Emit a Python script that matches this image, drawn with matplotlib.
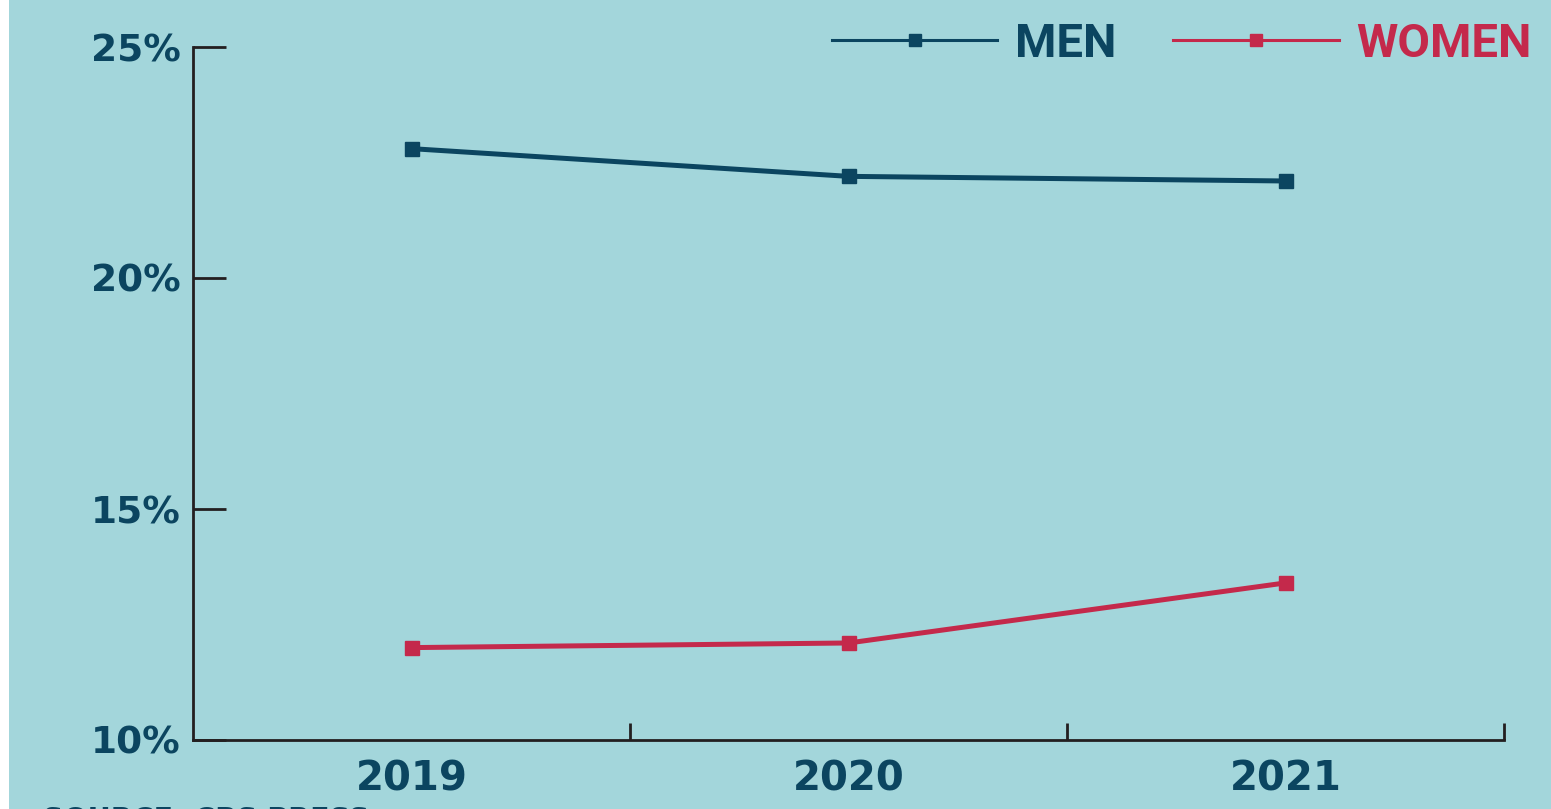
import matplotlib
matplotlib.use("Agg")
import matplotlib.pyplot as plt
from matplotlib.lines import Line2D
from matplotlib.patches import Rectangle
from matplotlib.ticker import FixedLocator, FuncFormatter

years = ["2019", "2020", "2021"]
men = [22.8, 22.2, 22.1]
women = [12.0, 12.1, 13.4]
y_ticks = [10, 15, 20, 25]
series_names = ["MEN", "WOMEN"]
source_note = "SOURCE: CBS PRESS"

BG = "#A3D6DB"
BLUE = "#0B4560"
RED = "#C4294B"
AXC = "#231F20"

W, H = 1551, 809
fig = plt.figure(figsize=(W / 100, H / 100), dpi=100, facecolor="white")
fig.patches.append(Rectangle((9 / W, 0), 1, 1, transform=fig.transFigure,
                             facecolor=BG, edgecolor="none", zorder=-10))

ax = fig.add_axes([193 / W, 1 - 740 / H, (1504 - 193) / W, (740 - 47) / H])
ax.set_facecolor(BG)

x = list(range(len(years)))
ax.plot(x, men, color=BLUE, lw=3.6, marker="s", ms=10, clip_on=False, zorder=3)
ax.plot(x, women, color=RED, lw=3.6, marker="s", ms=10, clip_on=False, zorder=3)

ax.set_xlim(-0.5, len(years) - 0.5)
ax.set_ylim(10, 25)

for s in ["top", "right"]:
    ax.spines[s].set_visible(False)
for s in ["left", "bottom"]:
    ax.spines[s].set_color(AXC)
    ax.spines[s].set_linewidth(2)

ax.set_yticks(y_ticks)
ax.yaxis.set_major_formatter(FuncFormatter(lambda v, p: f"{v:.0f}%"))
ax.tick_params(axis="y", direction="in", length=24, width=2, color=AXC, pad=9,
               labelsize=27, labelcolor=BLUE)

ax.set_xticks(x)
ax.set_xticklabels(years)
ax.tick_params(axis="x", which="major", length=0, pad=14, labelsize=29, labelcolor=BLUE)
ax.xaxis.set_minor_locator(FixedLocator([i + 0.5 for i in x]))
ax.tick_params(axis="x", which="minor", direction="in", length=12, width=2, color=AXC)

for lab in ax.get_xticklabels() + ax.get_yticklabels():
    lab.set_fontfamily("DejaVu Sans")
    lab.set_fontweight("bold")

handles = [Line2D([], [], color=BLUE, lw=2.2, marker="s", ms=9),
           Line2D([], [], color=RED, lw=2.2, marker="s", ms=9)]
leg = fig.legend(handles, series_names, loc="center left",
                 bbox_to_anchor=(832 / W, 1 - 44 / H), ncol=2, frameon=False,
                 prop={"family": "Roboto", "weight": "bold", "size": 34},
                 handlelength=3.5, handletextpad=0.38, columnspacing=1.2,
                 borderpad=0, borderaxespad=0)
for t, c in zip(leg.get_texts(), [BLUE, RED]):
    t.set_color(c)

fig.text(43 / W, 3 / H, source_note, ha="left", va="top",
         fontsize=20.5, fontweight="bold", color=BLUE, family="DejaVu Sans")

fig.savefig("out.png", dpi=100, facecolor="white")
